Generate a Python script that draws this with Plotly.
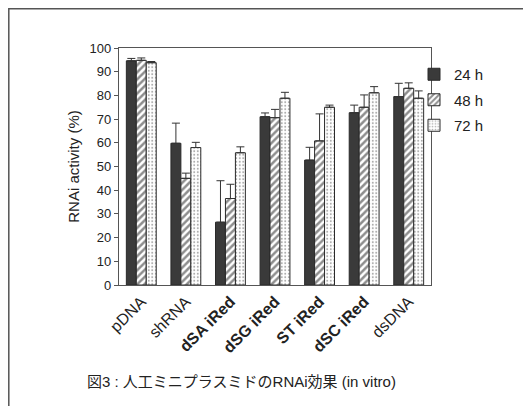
import plotly.graph_objects as go

categories = ["pDNA", "shRNA", "<b>dSA iRed</b>", "<b>dSG iRed</b>", "<b>ST iRed</b>", "<b>dSC iRed</b>", "dsDNA"]
series_names = ["24 h", "48 h", "72 h"]
vals_24 = [94.6, 59.8, 26.5, 71.0, 52.7, 72.7, 79.5]
vals_48 = [94.8, 45.0, 36.5, 70.6, 60.8, 75.0, 83.0]
vals_72 = [93.8, 58.0, 55.8, 78.8, 75.0, 81.1, 78.8]
err_24 = [1.0, 8.5, 17.5, 1.6, 5.4, 3.2, 5.6]
err_48 = [1.0, 2.2, 6.0, 3.5, 11.4, 5.2, 2.3]
err_72 = [0.5, 2.2, 2.5, 2.5, 0.9, 2.6, 3.1]
y_ticks = [0, 10, 20, 30, 40, 50, 60, 70, 80, 90, 100]
caption = "図3 : 人工ミニプラスミドのRNAi効果 (in vitro)"

FONT = "Liberation Sans, Arial, sans-serif"
CJK = "Liberation Sans, Noto Sans CJK JP, sans-serif"

styles = [
    dict(color="#3a3a3a", pattern=None),
    dict(color="white", pattern=dict(shape="/", fgcolor="#1e1e1e", bgcolor="white", size=5, solidity=0.5)),
    dict(color="white", pattern=dict(shape=".", fgcolor="#555555", bgcolor="white", size=3.5, solidity=0.25)),
]

fig = go.Figure()
for i, (name, v, e) in enumerate(zip(series_names, [vals_24, vals_48, vals_72], [err_24, err_48, err_72])):
    marker = dict(color=styles[i]["color"], line=dict(color="#2a2a2a", width=1))
    if styles[i]["pattern"]:
        marker["pattern"] = styles[i]["pattern"]
    fig.add_trace(go.Bar(
        x=categories, y=v, name=name, marker=marker, legendgroup=name,
        error_y=dict(type="data", array=e, arrayminus=[0]*len(e), symmetric=False,
                     color="#333333", thickness=1, width=4),
    ))

OFF = 8  # page body margin
L, R, T, B = 119 - OFF, 431 - OFF, 48 - OFF, 285 - OFF
W, H = 531 - OFF, 406 - OFF
def px(x):
    return (x - OFF - L) / (R - L)
def py(y):
    return (B - (y - OFF)) / (B - T)

fig.update_layout(
    width=W, height=H,
    margin=dict(l=L, r=W - R, t=T, b=H - B, pad=0),
    paper_bgcolor="white", plot_bgcolor="white",
    barmode="group", bargap=0.33, bargroupgap=0,
    font=dict(family=FONT, color="#222222", size=12),
    showlegend=True,
    legend=dict(x=px(414), y=py(58), xanchor="left", yanchor="top",
                font=dict(size=15, family=FONT), tracegroupgap=3,
                bgcolor="rgba(0,0,0,0)", itemwidth=30),
    xaxis=dict(showline=True, linecolor="#555555", linewidth=1.2, mirror=True,
               ticks="", tickangle=-45, tickfont=dict(size=16, family=FONT),
               showgrid=False),
    yaxis=dict(range=[0, 100], tickvals=y_ticks, showline=True, linecolor="#555555",
               linewidth=1.2, mirror=True, ticks="outside", ticklen=4, tickcolor="#555555",
               tickfont=dict(size=13, family=FONT), showgrid=False, zeroline=False,
               title=dict(text="RNAi activity (%)", font=dict(size=15, family=FONT), standoff=6)),
    shapes=[dict(type="rect", xref="paper", yref="paper",
                 x0=px(8.8), x1=px(560), y0=py(440), y1=py(8.8),
                 line=dict(color="#555555", width=1.5), fillcolor="rgba(0,0,0,0)", layer="below")],
    annotations=[dict(text=caption, xref="paper", yref="paper", x=px(241), y=py(381),
                      xanchor="center", yanchor="middle", showarrow=False,
                      font=dict(size=15, family=CJK, color="#222222"))],
)

fig.write_html("out.html")
